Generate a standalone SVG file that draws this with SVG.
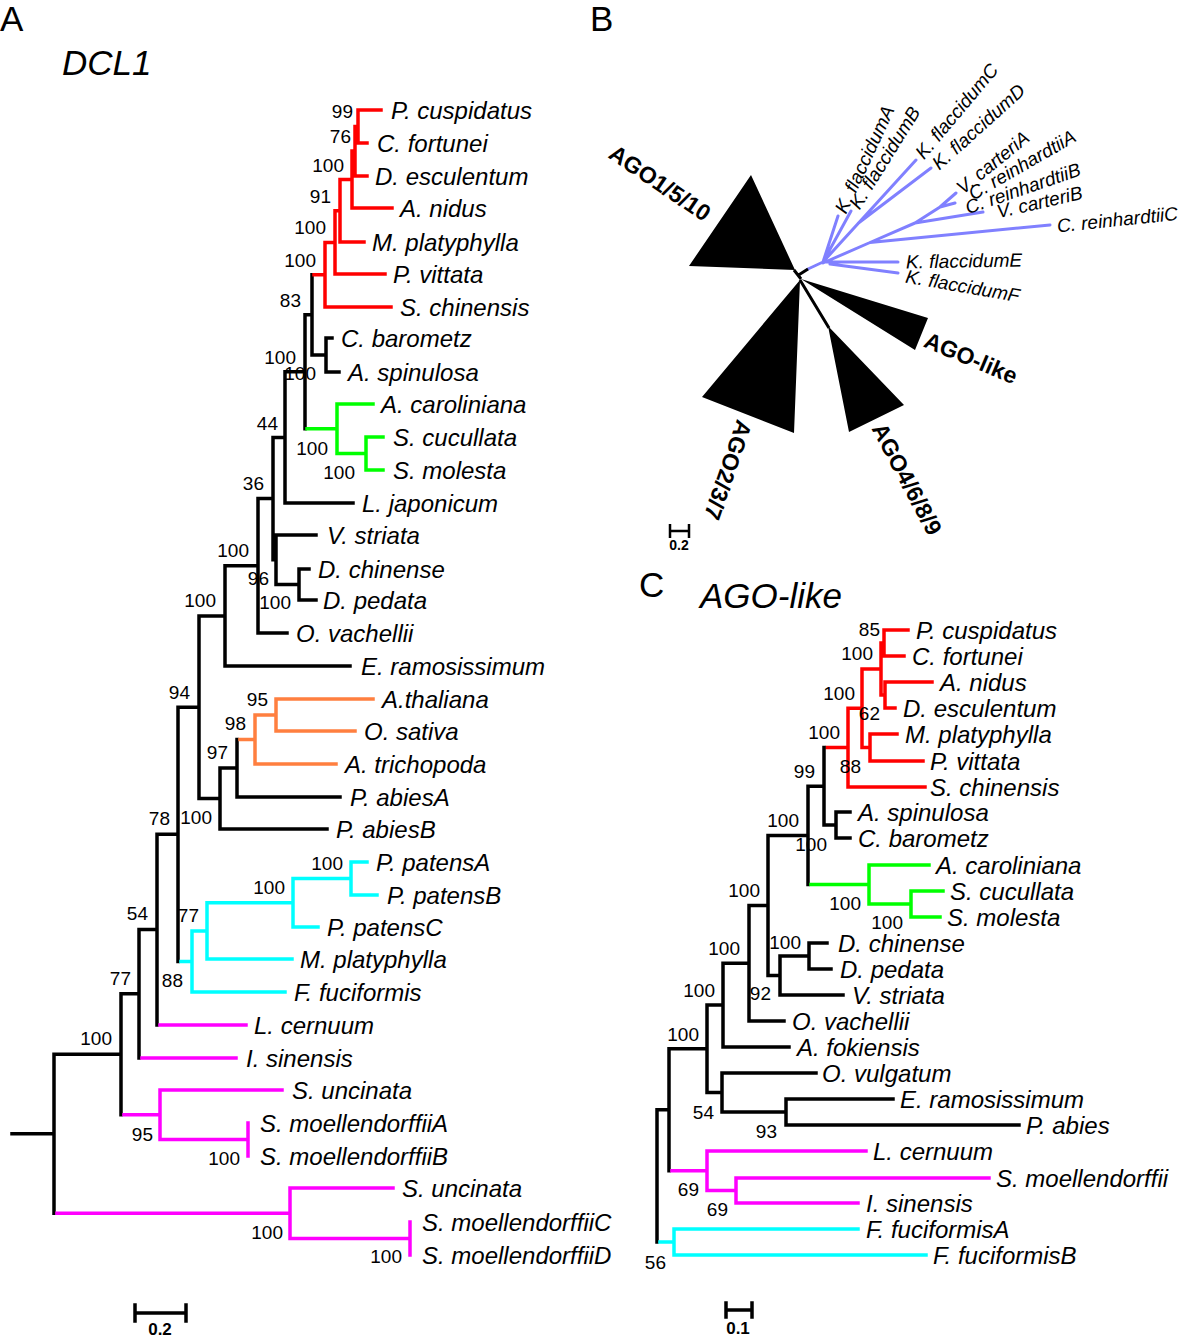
<svg xmlns="http://www.w3.org/2000/svg" width="1180" height="1338" viewBox="0 0 1180 1338">
<style>
.t{font-family:"Liberation Sans",Arial,sans-serif;font-style:italic;font-size:24px;fill:#000}
.n{font-family:"Liberation Sans",Arial,sans-serif;font-size:19px;text-anchor:end;fill:#000}
.tb{font-family:"Liberation Sans",Arial,sans-serif;font-style:italic;font-size:19px;fill:#000}
.grp{font-family:"Liberation Sans",Arial,sans-serif;font-weight:bold;font-size:23px;text-anchor:middle;fill:#000}
.pl{font-family:"Liberation Sans",Arial,sans-serif;font-size:35px;fill:#000}
.ti{font-family:"Liberation Sans",Arial,sans-serif;font-style:italic;font-size:35px;fill:#000}
.sc{font-family:"Liberation Sans",Arial,sans-serif;font-weight:bold;text-anchor:middle;fill:#000}
.br{fill:none;stroke-width:3.5;stroke-linecap:square}
.bu{fill:none;stroke-width:3;stroke-linecap:round;stroke:#8080ff}
.k{stroke:#000}.r{stroke:#f00}.g{stroke:#0f0}.o{stroke:#ff7f3f}.c{stroke:#0ff}.m{stroke:#f0f}
</style>
<rect width="1180" height="1338" fill="#fff"/>

<g id="titles">
<text class="pl" x="0" y="31">A</text>
<text class="pl" x="590" y="31">B</text>
<text class="pl" x="639" y="597">C</text>
<text class="ti" x="62" y="75">DCL1</text>
<text class="ti" x="700" y="608">AGO-like</text>
</g>

<!-- Panel A bootstrap values -->
<g id="A-support">
<text class="n" x="353" y="118">99</text>
<text class="n" x="351" y="143">76</text>
<text class="n" x="344" y="172">100</text>
<text class="n" x="331" y="203">91</text>
<text class="n" x="326" y="234">100</text>
<text class="n" x="316" y="267">100</text>
<text class="n" x="301" y="307">83</text>
<text class="n" x="296" y="364">100</text>
<text class="n" x="316" y="380">100</text>
<text class="n" x="328" y="455">100</text>
<text class="n" x="355" y="479">100</text>
<text class="n" x="278" y="430">44</text>
<text class="n" x="264" y="490">36</text>
<text class="n" x="249" y="557">100</text>
<text class="n" x="269" y="585">96</text>
<text class="n" x="291" y="609">100</text>
<text class="n" x="216" y="607">100</text>
<text class="n" x="190" y="699">94</text>
<text class="n" x="268" y="706">95</text>
<text class="n" x="246" y="730">98</text>
<text class="n" x="228" y="759">97</text>
<text class="n" x="170" y="825">78</text>
<text class="n" x="212" y="824">100</text>
<text class="n" x="343" y="870">100</text>
<text class="n" x="285" y="894">100</text>
<text class="n" x="199" y="922">77</text>
<text class="n" x="148" y="920">54</text>
<text class="n" x="183" y="987">88</text>
<text class="n" x="131" y="985">77</text>
<text class="n" x="112" y="1045">100</text>
<text class="n" x="153" y="1141">95</text>
<text class="n" x="240" y="1165">100</text>
<text class="n" x="283" y="1239">100</text>
<text class="n" x="402" y="1263">100</text>
</g>

<g id="connectors">
<!-- Panel A -->
<path class="br k" d="M312 274.7V355M312 355H326M326 338V372M326 338H332M326 372H339M305 314.8V428.75M305 314.8H312M285 371.8V503M285 371.8H305M285 503H353M273 437.4V559.75M273 437.4H285M273 559.75H276M276 535V584.5M276 535H316M276 584.5H299M299 569V600M299 569H309M299 600H316M258 498.6V633M258 498.6H273M258 633H287M225 565.8V666M225 565.8H258M225 666H350M199 615.9V798.5M199 615.9H225M237 739.5V797M237 797H340M220 768V829M220 768H237M220 829H327M199 798.5H220M178 707.2V961.4M178 707.2H199M157 834.3V1025M157 834.3H178M139 929.6V1058M139 929.6H157M121 993.8V1114.75M121 993.8H139M54 1054.3V1213.25M54 1054.3H121M12 1133.8H54"/>
<path class="br r" d="M358 110V143M358 110H381M358 143H367M355 126.5V176M355 126.5H358M355 176H367M352 151V208M352 151H355M352 208H392M340 179.5V242M340 179.5H352M340 242H364M335 210.75V274M335 210.75H340M335 274H385M325 242.4V307M325 242.4H335M325 307H391M314 274.7H325"/>
<path class="br g" d="M307 428.75H337M337 404V453.5M337 404H373M337 453.5H366M366 437V470M366 437H383M366 470H383"/>
<path class="br o" d="M240 739.5H255M255 715V764M255 764H336M255 715H276M276 699V731M276 699H373M276 731H355"/>
<path class="br c" d="M181 961.4H192M192 930.9V992M192 992H285M192 930.9H207M207 902.75V959M207 959H292M207 902.75H293M293 878.5V927M293 927H318M293 878.5H351M351 862V895M351 862H367M351 895H377"/>
<path class="br m" d="M160 1025H246M142 1058H236M124 1114.75H160M160 1090V1139.5M160 1090H282M160 1139.5H248M248 1123V1156M57 1213.25H290M290 1188V1238.5M290 1188H393M290 1238.5H410M410 1222V1255"/>
<path class="br k" d="M135 1313H186M135 1305V1321M186 1305V1321"/>

<!-- Panel C -->
<path class="br r" d="M884 630V656M884 630H908M884 656H904M885 682V708M885 682H932M885 708H895M881 643V695M881 643H884M881 695H885M862 669V747.5M862 669H881M870 734V761M862 747.5H870M870 734H897M870 761H923M848 708.25V787M848 708.25H862M848 787H925M827 747.6H848"/>
<path class="br k" d="M824 747.6V825M824 825H836M836 812V838M836 812H850M836 838H850M808 786.3V884.5M808 786.3H824M768 835.4V975.5M768 835.4H808M809 943V969M809 943H827M809 969H831M780 956V995M780 956H809M780 995H843M768 975.5H780M749 905.5V1021M749 905.5H768M749 1021H784M723 963.2V1047M723 963.2H749M723 1047H789M786 1099V1125M786 1099H893M786 1125H1019M722 1073V1112M722 1073H816M722 1112H786M707 1005.1V1092.5M707 1005.1H723M707 1092.5H722M669 1048.8V1170.75M669 1048.8H707M657 1109.8V1242M657 1109.8H669"/>
<path class="br g" d="M811 884.5H869M869 865V904M869 865H929M869 904H911M911 891V917M911 891H943M911 917H940"/>
<path class="br m" d="M672 1170.75H707M707 1151V1190.5M707 1151H866M707 1190.5H736M736 1178V1203M736 1178H989M736 1203H858"/>
<path class="br c" d="M660 1242H674M674 1229V1255M674 1229H858M674 1255H926"/>
<path class="br k" d="M726 1310H752M726 1303V1317M752 1303V1317"/>

<!-- Panel B -->
<path class="bu" d="M808 269L823 262M823 262L838 216M823 262L851 211M823 262L916 160M858.5 223L931 168M823 263L870 242.5L915 223M870 242.5L1050 225M915 223L983 212M915 223L940 207L956 193M940 207L955 203M826 262L898 262M830 264L898 273"/>
<path fill="none" stroke="#000" stroke-width="3" d="M794 270L801 279M797 276L808 269M800 280L829 328"/>
<path stroke="none" fill="#000" d="M689 266L751 175L795 270ZM800 280L702 397L794 433ZM801 279L928 318L915 350ZM828 326L849 432L904 405Z"/>
<path fill="none" stroke="#000" stroke-width="2.5" d="M670 531H689M670 524V538M689 524V538"/>
</g>

<!-- Panel C bootstrap values (drawn over the branches) -->
<g id="C-support">
<text class="n" x="880" y="636">85</text>
<text class="n" x="873" y="660">100</text>
<text class="n" x="855" y="700">100</text>
<text class="n" x="880" y="720">62</text>
<text class="n" x="840" y="739">100</text>
<text class="n" x="861" y="773">88</text>
<text class="n" x="815" y="778">99</text>
<text class="n" x="799" y="827">100</text>
<text class="n" x="827" y="851">100</text>
<text class="n" x="861" y="910">100</text>
<text class="n" x="903" y="929">100</text>
<text class="n" x="760" y="897">100</text>
<text class="n" x="801" y="949">100</text>
<text class="n" x="771" y="1000">92</text>
<text class="n" x="740" y="955">100</text>
<text class="n" x="715" y="997">100</text>
<text class="n" x="699" y="1041">100</text>
<text class="n" x="714" y="1119">54</text>
<text class="n" x="777" y="1138">93</text>
<text class="n" x="699" y="1196">69</text>
<text class="n" x="728" y="1216">69</text>
<text class="n" x="666" y="1269">56</text>
</g>

<!-- Panel A tips -->
<g id="A-tips">
<text class="t" x="391" y="118.5">P. cuspidatus</text>
<text class="t" x="377" y="151.5">C. fortunei</text>
<text class="t" x="375" y="184.5">D. esculentum</text>
<text class="t" x="400" y="216.5">A. nidus</text>
<text class="t" x="372" y="250.5">M. platyphylla</text>
<text class="t" x="393" y="282.5">P. vittata</text>
<text class="t" x="400" y="315.5">S. chinensis</text>
<text class="t" x="341" y="346.5">C. barometz</text>
<text class="t" x="348" y="380.5">A. spinulosa</text>
<text class="t" x="381" y="412.5">A. caroliniana</text>
<text class="t" x="393" y="445.5">S. cucullata</text>
<text class="t" x="393" y="478.5">S. molesta</text>
<text class="t" x="362" y="511.5">L. japonicum</text>
<text class="t" x="327" y="543.5">V. striata</text>
<text class="t" x="318" y="577.5">D. chinense</text>
<text class="t" x="323" y="608.5">D. pedata</text>
<text class="t" x="296" y="641.5">O. vachellii</text>
<text class="t" x="361" y="674.5">E. ramosissimum</text>
<text class="t" x="382" y="707.5">A.thaliana</text>
<text class="t" x="364" y="739.5">O. sativa</text>
<text class="t" x="345" y="772.5">A. trichopoda</text>
<text class="t" x="350" y="805.5">P. abiesA</text>
<text class="t" x="336" y="837.5">P. abiesB</text>
<text class="t" x="376" y="870.5">P. patensA</text>
<text class="t" x="387" y="903.5">P. patensB</text>
<text class="t" x="327" y="935.5">P. patensC</text>
<text class="t" x="300" y="967.5">M. platyphylla</text>
<text class="t" x="294" y="1000.5">F. fuciformis</text>
<text class="t" x="254" y="1033.5">L. cernuum</text>
<text class="t" x="246" y="1066.5">I. sinensis</text>
<text class="t" x="292" y="1098.5">S. uncinata</text>
<text class="t" x="260" y="1131.5">S. moellendorffiiA</text>
<text class="t" x="260" y="1164.5">S. moellendorffiiB</text>
<text class="t" x="402" y="1196.5">S. uncinata</text>
<text class="t" x="422" y="1230.5">S. moellendorffiiC</text>
<text class="t" x="422" y="1263.5">S. moellendorffiiD</text>
<text class="sc" x="160" y="1335" font-size="17">0.2</text>
</g>

<!-- Panel C tips -->
<g id="C-tips">
<text class="t" x="916" y="638.5">P. cuspidatus</text>
<text class="t" x="912" y="664.5">C. fortunei</text>
<text class="t" x="940" y="690.5">A. nidus</text>
<text class="t" x="903" y="716.5">D. esculentum</text>
<text class="t" x="905" y="742.5">M. platyphylla</text>
<text class="t" x="930" y="769.5">P. vittata</text>
<text class="t" x="930" y="795.5">S. chinensis</text>
<text class="t" x="858" y="820.5">A. spinulosa</text>
<text class="t" x="858" y="846.5">C. barometz</text>
<text class="t" x="936" y="873.5">A. caroliniana</text>
<text class="t" x="950" y="899.5">S. cucullata</text>
<text class="t" x="947" y="925.5">S. molesta</text>
<text class="t" x="838" y="951.5">D. chinense</text>
<text class="t" x="840" y="977.5">D. pedata</text>
<text class="t" x="852" y="1003.5">V. striata</text>
<text class="t" x="792" y="1029.5">O. vachellii</text>
<text class="t" x="797" y="1055.5">A. fokiensis</text>
<text class="t" x="822" y="1081.5">O. vulgatum</text>
<text class="t" x="900" y="1107.5">E. ramosissimum</text>
<text class="t" x="1026" y="1133.5">P. abies</text>
<text class="t" x="873" y="1159.5">L. cernuum</text>
<text class="t" x="996" y="1186.5">S. moellendorffii</text>
<text class="t" x="866" y="1211.5">I. sinensis</text>
<text class="t" x="866" y="1237.5">F. fuciformisA</text>
<text class="t" x="933" y="1263.5">F. fuciformisB</text>
<text class="sc" x="738" y="1334" font-size="17">0.1</text>
</g>

<!-- Panel B labels -->
<g id="B-labels">
<text class="tb" transform="translate(840 212) rotate(-65)" y="6.5">K. flaccidumA</text>
<text class="tb" transform="translate(854 207) rotate(-58)" y="6.5">K. flaccidumB</text>
<text class="tb" transform="translate(919 156) rotate(-50)" y="6.5">K. flaccidumC</text>
<text class="tb" transform="translate(935 166) rotate(-42)" y="6.5">K. flaccidumD</text>
<text class="tb" transform="translate(959 190) rotate(-39)" y="6.5">V. carteriA</text>
<text class="tb" transform="translate(970 195) rotate(-30)" y="6.5">C. reinhardtiiA</text>
<text class="tb" transform="translate(966 208) rotate(-19)" y="6.5">C. reinhardtiiB</text>
<text class="tb" transform="translate(997 212) rotate(-13)" y="6.5">V. carteriB</text>
<text class="tb" transform="translate(1057 226) rotate(-6)" y="6.5">C. reinhardtiiC</text>
<text class="tb" transform="translate(906 262) rotate(-1)" y="6.5">K. flaccidumE</text>
<text class="tb" transform="translate(906 276) rotate(10)" y="6.5">K. flaccidumF</text>
<text class="grp" transform="translate(660 183) rotate(34)" y="8">AGO1/5/10</text>
<text class="grp" transform="translate(971 358) rotate(23)" y="8">AGO-like</text>
<text class="grp" transform="translate(728 470) rotate(109)" y="8">AGO2/3/7</text>
<text class="grp" transform="translate(907 479) rotate(62)" y="8">AGO4/6/8/9</text>
<text class="sc" x="679" y="550" font-size="14">0.2</text>
</g>
</svg>
